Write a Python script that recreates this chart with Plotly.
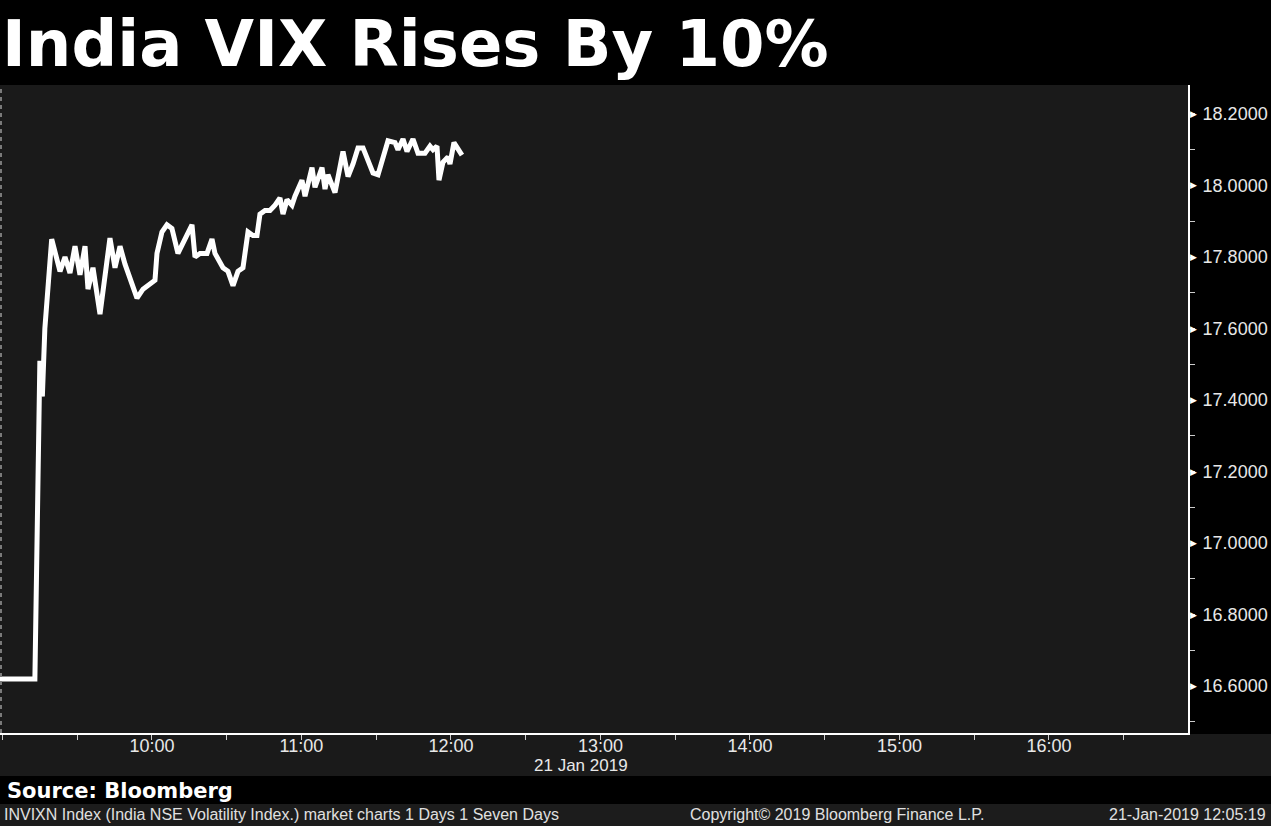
import plotly.graph_objects as go

# ---- data (India VIX, 21 Jan 2019, intraday) ----
times = [
    "08:59:00", "09:13:00", "09:15:00", "09:16:00", "09:17:00", "09:19:45",
    "09:23:05", "09:25:05", "09:27:05", "09:29:06", "09:31:06", "09:33:07",
    "09:34:19", "09:36:19", "09:39:08", "09:43:08", "09:45:09", "09:47:10",
    "09:49:10", "09:53:59", "09:56:23", "09:58:24", "10:01:12", "10:02:00",
    "10:04:00", "10:06:00", "10:08:00", "10:10:25", "10:12:25", "10:16:03",
    "10:17:15", "10:19:16", "10:22:05", "10:24:05", "10:25:17", "10:28:30",
    "10:30:30", "10:32:31", "10:34:31", "10:36:31", "10:38:32", "10:40:32",
    "10:42:08", "10:43:20", "10:45:21", "10:47:21", "10:49:22", "10:51:22",
    "10:52:35", "10:54:11", "10:56:11", "10:57:23", "11:00:12", "11:01:25",
    "11:04:13", "11:05:25", "11:08:14", "11:09:26", "11:10:38", "11:13:27",
    "11:16:40", "11:18:41", "11:20:41", "11:22:41", "11:24:42", "11:26:18",
    "11:28:42", "11:30:43", "11:32:19", "11:34:43", "11:37:32", "11:38:44",
    "11:40:45", "11:42:21", "11:44:45", "11:46:46", "11:49:34", "11:51:35",
    "11:52:47", "11:54:23", "11:55:11", "11:56:47", "11:58:48", "11:59:36",
    "12:01:12", "12:04:24",
]
vix = [
    16.62, 16.62, 17.51, 17.41, 17.60, 17.85,
    17.76, 17.80, 17.755, 17.83, 17.75, 17.83,
    17.71, 17.77, 17.64, 17.853, 17.77, 17.83,
    17.78, 17.685, 17.71, 17.72, 17.735, 17.81,
    17.87, 17.89, 17.88, 17.81, 17.84, 17.89,
    17.80, 17.81, 17.81, 17.85, 17.81, 17.77,
    17.76, 17.72, 17.76, 17.77, 17.87, 17.86,
    17.86, 17.92, 17.93, 17.93, 17.945, 17.965,
    17.92, 17.96, 17.945, 17.97, 18.015, 17.97,
    18.05, 17.995, 18.05, 17.99, 18.03, 17.98,
    18.095, 18.025, 18.06, 18.105, 18.105, 18.08,
    18.035, 18.03, 18.07, 18.125, 18.12, 18.10,
    18.13, 18.095, 18.13, 18.09, 18.09, 18.11,
    18.10, 18.11, 18.015, 18.065, 18.08, 18.06,
    18.12, 18.085,
]
day = "2019-01-21"
x_ticks = ["10:00", "11:00", "12:00", "13:00", "14:00", "15:00", "16:00"]
y_ticks = [16.6, 16.8, 17.0, 17.2, 17.4, 17.6, 17.8, 18.0, 18.2]
x_range = ["08:59:00", "16:55:48"]
y_range = [16.469, 18.281]

title_text = "India VIX Rises By 10%"
source_text = "Source: Bloomberg"
footer_left = "INVIXN Index (India NSE Volatility Index.) market charts 1 Days 1 Seven Days"
footer_mid = "Copyright\u00a9 2019 Bloomberg Finance L.P."
footer_right = "21-Jan-2019 12:05:19"
date_label = "21 Jan 2019"

W, H = 1271, 826
L, R, T, B = 0, 83, 85, 93
PW, PH = W - L - R, H - T - B


def px_to_paper_y(py):
    return (H - B - py) / PH


def px_to_paper_x(px):
    return (px - L) / PW


fig = go.Figure()
fig.add_trace(go.Scatter(
    x=[f"{day} {t}" for t in times], y=vix, mode="lines",
    line=dict(color="#ffffff", width=5), hoverinfo="skip", showlegend=False,
))

label_font = dict(family="Liberation Sans, Arial, sans-serif", size=18, color="#e8e8e8")
date_font = dict(family="Liberation Sans, Arial, sans-serif", size=17, color="#e8e8e8")
foot_font = dict(family="Liberation Sans, Arial, sans-serif", size=16, color="#e0e0e0")

fig.update_layout(
    width=W, height=H,
    margin=dict(l=L, r=R, t=T, b=B, pad=0),
    paper_bgcolor="#000000",
    plot_bgcolor="#1a1a1a",
    showlegend=False,
    xaxis=dict(
        type="date",
        range=[f"{day} {x_range[0]}", f"{day} {x_range[1]}"],
        tickvals=[f"{day} {t}" for t in x_ticks],
        ticktext=x_ticks,
        showgrid=False, zeroline=False,
        showline=True, linecolor="#ffffff", linewidth=2,
        ticks="", ticklabelstandoff=-5,
        minor=dict(dtick=30 * 60 * 1000, ticks="outside", ticklen=5,
                   tickcolor="#cccccc", tickwidth=1, showgrid=False),
        tickfont=label_font,
        fixedrange=True,
    ),
    yaxis=dict(
        side="right",
        range=y_range,
        tickvals=y_ticks,
        ticktext=[f"{v:.4f}" for v in y_ticks],
        showgrid=False, zeroline=False,
        showline=True, linecolor="#ffffff", linewidth=2,
        ticks="", ticklabelstandoff=9,
        minor=dict(dtick=0.1, ticks="outside", ticklen=5,
                   tickcolor="#cccccc", tickwidth=1, showgrid=False),
        tickfont=label_font,
        fixedrange=True,
    ),
)

shapes = [
    # x-axis label band
    dict(type="rect", xref="paper", yref="paper", x0=px_to_paper_x(0), x1=px_to_paper_x(W),
         y0=px_to_paper_y(776), y1=px_to_paper_y(734), fillcolor="#1a1a1a",
         line=dict(width=0), layer="below"),
    # footer band
    dict(type="rect", xref="paper", yref="paper", x0=px_to_paper_x(0), x1=px_to_paper_x(W),
         y0=px_to_paper_y(826), y1=px_to_paper_y(804), fillcolor="#1c1c1c",
         line=dict(width=0), layer="below"),
    # dashed left edge
    dict(type="line", xref="paper", yref="paper", x0=px_to_paper_x(1), x1=px_to_paper_x(1),
         y0=0, y1=1, line=dict(color="#7a7a7a", width=2, dash="4px,4px")),
]
fig.update_layout(shapes=shapes)

annotations = [
    dict(text=title_text, xref="paper", yref="paper", x=px_to_paper_x(0), y=px_to_paper_y(44),
         xanchor="left", yanchor="middle", showarrow=False,
         font=dict(family="DejaVu Sans, Verdana, sans-serif", size=64, color="#ffffff", weight="bold")),
    dict(text=source_text, xref="paper", yref="paper", x=px_to_paper_x(5), y=px_to_paper_y(791),
         xanchor="left", yanchor="middle", showarrow=False,
         font=dict(family="DejaVu Sans, Verdana, sans-serif", size=21, color="#ffffff", weight="bold")),
    dict(text=footer_left, xref="paper", yref="paper", x=px_to_paper_x(2), y=px_to_paper_y(815),
         xanchor="left", yanchor="middle", showarrow=False, font=foot_font),
    dict(text=footer_mid, xref="paper", yref="paper", x=px_to_paper_x(837), y=px_to_paper_y(815),
         xanchor="center", yanchor="middle", showarrow=False, font=foot_font),
    dict(text=footer_right, xref="paper", yref="paper", x=px_to_paper_x(1268), y=px_to_paper_y(815),
         xanchor="right", yanchor="middle", showarrow=False, font=foot_font),
    dict(text=date_label, xref="paper", yref="paper", x=px_to_paper_x(630), y=px_to_paper_y(765),
         xanchor="right", yanchor="middle", showarrow=False, font=date_font),
]
for v in y_ticks:
    annotations.append(dict(text="\u25b6", xref="paper", yref="y", x=1.0, y=v,
                            xanchor="left", yanchor="middle", showarrow=False, xshift=0,
                            font=dict(family="DejaVu Sans, sans-serif", size=9, color="#ffffff")))
fig.update_layout(annotations=annotations)

fig.write_html("out.html", config={"displayModeBar": False},
               post_script="document.body.style.margin='0';document.body.style.overflow='hidden';")
